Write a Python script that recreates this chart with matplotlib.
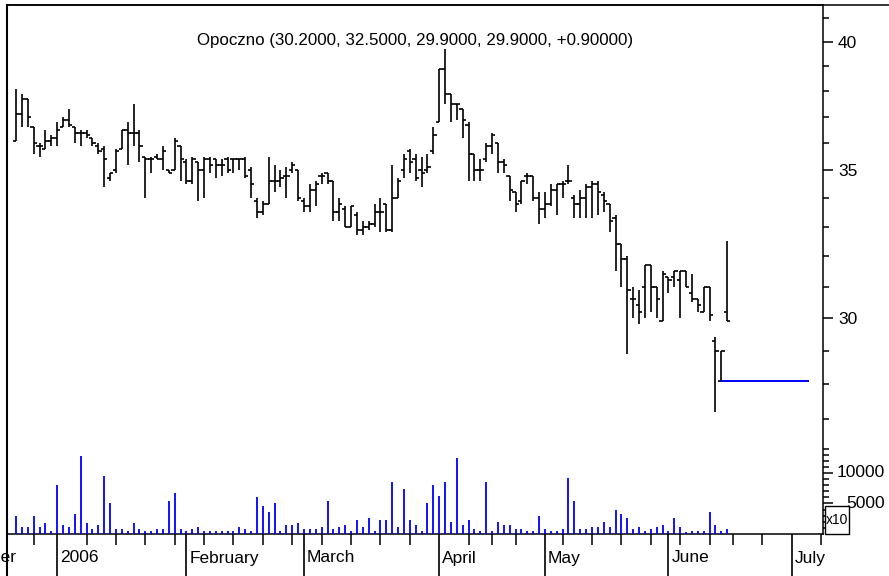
import matplotlib
matplotlib.use('Agg')
import matplotlib.pyplot as plt
import matplotlib.transforms as mtransforms
from matplotlib.lines import Line2D
from matplotlib.patches import Rectangle
from matplotlib.ticker import NullFormatter, FixedLocator

plt.rcParams['font.family'] = ['Liberation Sans', 'DejaVu Sans']

# Daily bars, 21 Dec 2005 .. 16 Jun 2006 (trading-day index 0..121)
opens = [36.1, 37.1, 37.7, 36.6, 35.9, 35.8, 36.1, 36.2, 36.6, 36.9,
         36.6, 36.4, 36.4, 36.2, 35.9, 35.8, 34.7, 35.0, 35.8, 36.5,
         36.4, 36.4, 35.5, 35.4, 35.5, 35.4, 35.0, 35.0, 35.9, 35.3,
         34.6, 35.3, 35.0, 35.4, 35.4, 35.2, 35.4, 35.4, 35.4, 35.4,
         35.0, 33.9, 33.5, 33.8, 34.6, 34.6, 34.8, 35.0, 35.0, 33.9,
         33.7, 34.3, 34.8, 34.9, 34.6, 33.5, 33.6, 33.0, 33.4, 32.9,
         33.0, 33.1, 33.5, 33.8, 32.9, 34.0, 35.0, 35.7, 35.4, 35.0,
         35.0, 35.7, 36.8, 38.9, 37.9, 37.5, 37.3, 36.7, 35.6, 35.0,
         35.4, 35.9, 36.0, 35.3, 34.8, 34.2, 33.9, 34.8, 34.8, 34.0,
         33.6, 33.8, 34.3, 34.5, 34.6, 34.0, 33.8, 34.0, 34.4, 34.5,
         34.1, 33.8, 33.3, 32.4, 31.9, 30.6, 30.4, 31.0, 31.7, 31.0,
         29.9, 31.3, 31.3, 31.2, 31.5, 30.8, 30.6, 30.2, 31.0, 29.3,
         28.1, 30.2]
highs = [38.1, 37.9, 37.7, 36.6, 36.0, 36.5, 36.3, 36.8, 37.0, 37.3,
         36.6, 36.5, 36.5, 36.2, 36.0, 35.9, 34.9, 35.8, 36.5, 36.8,
         37.5, 36.5, 35.5, 35.5, 35.6, 35.9, 35.0, 36.2, 35.9, 35.4,
         35.5, 35.3, 35.5, 35.5, 35.4, 35.4, 35.5, 35.4, 35.4, 35.5,
         35.1, 34.0, 33.9, 35.5, 35.2, 35.0, 35.1, 35.3, 35.0, 34.0,
         34.5, 34.6, 34.9, 34.9, 34.6, 34.0, 33.7, 33.7, 33.5, 33.2,
         33.2, 33.8, 34.0, 33.8, 35.2, 34.7, 35.6, 35.8, 35.6, 35.5,
         35.6, 36.6, 38.9, 39.7, 37.9, 37.5, 37.3, 36.8, 35.6, 35.4,
         36.0, 36.4, 36.0, 35.4, 34.8, 34.2, 34.6, 34.9, 34.8, 34.2,
         34.2, 34.5, 34.5, 34.6, 35.2, 34.1, 34.3, 34.5, 34.6, 34.6,
         34.2, 33.8, 33.4, 32.4, 32.0, 31.0, 30.9, 31.7, 31.7, 31.0,
         31.5, 31.3, 31.5, 31.5, 31.5, 31.4, 30.6, 31.0, 31.0, 29.4,
         29.0, 32.5]
lows = [36.1, 36.6, 36.6, 35.6, 35.5, 35.8, 35.9, 35.9, 36.6, 36.6,
        36.0, 35.9, 36.2, 35.9, 35.6, 34.4, 34.6, 34.9, 35.8, 35.2,
        35.9, 35.3, 34.0, 34.9, 35.4, 35.0, 34.9, 35.0, 34.6, 34.5,
        34.5, 33.9, 34.0, 34.9, 34.7, 34.8, 34.9, 34.9, 35.0, 34.7,
        34.0, 33.3, 33.4, 33.8, 34.2, 34.4, 34.0, 34.9, 33.9, 33.5,
        33.5, 33.7, 34.5, 34.5, 33.2, 33.2, 33.0, 33.0, 32.7, 32.7,
        32.9, 33.0, 32.8, 32.8, 32.8, 34.0, 34.7, 34.9, 34.6, 34.4,
        34.9, 35.6, 36.8, 37.5, 36.8, 36.9, 36.2, 34.6, 34.6, 34.6,
        35.3, 35.6, 34.9, 34.9, 33.9, 33.5, 33.8, 34.5, 33.9, 33.1,
        33.3, 33.7, 33.4, 34.0, 34.5, 33.3, 33.3, 33.3, 33.3, 33.4,
        33.5, 32.8, 31.5, 31.0, 28.9, 30.0, 29.8, 30.0, 30.2, 30.0,
        29.9, 30.8, 31.0, 30.0, 31.0, 30.5, 30.2, 30.2, 29.9, 27.2,
        28.1, 29.9]
closes = [37.1, 37.7, 37.0, 36.0, 35.9, 36.1, 36.2, 36.5, 36.9, 36.7,
          36.4, 36.4, 36.3, 36.0, 35.7, 35.4, 34.9, 35.7, 36.5, 36.4,
          36.4, 35.9, 35.4, 35.4, 35.4, 35.7, 34.9, 36.1, 35.4, 34.6,
          35.4, 35.0, 35.4, 35.2, 35.2, 35.2, 35.0, 35.4, 35.4, 34.8,
          34.5, 33.5, 33.8, 34.6, 34.6, 34.7, 34.8, 35.2, 34.0, 33.7,
          34.3, 34.5, 34.8, 34.6, 33.5, 33.8, 33.0, 33.7, 32.9, 33.0,
          33.1, 33.5, 33.5, 32.9, 34.0, 34.6, 35.4, 35.3, 34.7, 34.9,
          35.1, 36.3, 38.9, 37.9, 37.5, 37.5, 36.9, 35.6, 35.0, 35.0,
          35.9, 36.3, 35.3, 35.2, 34.3, 33.8, 34.6, 34.8, 34.0, 33.6,
          33.8, 34.3, 34.5, 34.5, 34.6, 33.8, 34.0, 34.4, 34.5, 34.2,
          33.9, 33.2, 32.4, 31.9, 30.9, 30.6, 30.2, 31.7, 31.0, 30.6,
          31.4, 31.2, 31.5, 31.5, 31.0, 30.6, 30.4, 31.0, 30.1, 29.0,
          29.0, 29.9]
# volume in units of 10 shares (axis shows "x10")
volumes = [2900, 1150, 1150, 2900, 1150, 1800, 550, 8100, 1500, 1150,
           3300, 12800, 1800, 800, 1500, 9500, 5000, 800, 800, 550,
           1800, 800, 550, 550, 800, 800, 5400, 6700, 800, 550,
           800, 1150, 550, 550, 550, 550, 550, 550, 1150, 800,
           550, 6000, 4600, 3600, 5000, 550, 1500, 1500, 1800, 800,
           800, 800, 1150, 5400, 800, 1150, 1500, 550, 2250, 1150,
           2600, 550, 2250, 2250, 8500, 1150, 7400, 2250, 1500, 550,
           5000, 8100, 6300, 8500, 1900, 12500, 1500, 2250, 800, 550,
           8500, 550, 1900, 1500, 1500, 800, 800, 550, 550, 2900,
           800, 550, 550, 800, 9100, 5400, 800, 800, 1150, 1150,
           1900, 1150, 4000, 3300, 2600, 800, 1150, 550, 800, 1150,
           1500, 550, 2600, 1150, 300, 550, 550, 550, 3600, 1500,
           550, 800]

# first trading day of each month / week, as trading-day index
month_ticks = [-14, 7, 29, 49, 72, 90, 111, 132]
month_labels = ['December', '2006', 'February', 'March', 'April', 'May', 'June', 'July']
week_ticks = [3, 12, 17, 22, 27, 32, 37, 42, 47, 52, 57, 62, 67, 77, 81, 85,
              93, 98, 103, 108, 113, 118, 122, 127, 137]

price_major = [30, 35, 40]
price_minor = [27, 28, 29, 31, 32, 33, 34, 36, 37, 38, 39, 41]
vol_major = [5000, 10000]
vol_minor = list(range(1000, 15000, 1000))

stop_bar = 120
stop_end = 135

title = 'Opoczno (30.2000, 32.5000, 29.9000, 29.9000, +0.90000)'

FS = 12.5
W, H = 889, 576
fig = plt.figure(figsize=(W / 100, H / 100), dpi=100)
L, R, T, B = 7, 823, 5, 534
ax = fig.add_axes([L / W, 1 - B / H, (R - L) / W, (B - T) / H])

n = len(closes)
xs = list(range(n))
ax.vlines(xs, lows, highs, color='black', lw=1.2)
ax.hlines(opens, [x - 0.55 for x in xs], xs, color='black', lw=1.2)
ax.hlines(closes, xs, [x + 0.55 for x in xs], color='black', lw=1.2)
ax.hlines(lows[stop_bar], stop_bar, stop_end, color='#0000ff', lw=1.4)

# volume on a twin axis in the lower part of the same frame
vax = ax.twinx()
vax.vlines(xs, 0, volumes, color='#0000ff', lw=1.3)
vax.set_ylim(0, 86700)
vax.yaxis.set_major_locator(FixedLocator(vol_major))
vax.yaxis.set_minor_locator(FixedLocator(vol_minor))
vax.yaxis.set_major_formatter(NullFormatter())
vax.tick_params(axis='y', which='major', length=7.2, width=1.1)
vax.tick_params(axis='y', which='minor', length=4.3, width=1.1)
for s in vax.spines.values():
    s.set_visible(False)

ax.set_yscale('log')
ax.set_ylim(23.95, 41.58)
ax.set_xlim(-1.53, 137.3)
ax.yaxis.tick_right()
ax.yaxis.set_label_position('right')
ax.yaxis.set_major_locator(FixedLocator(price_major))
ax.yaxis.set_minor_locator(FixedLocator(price_minor))
ax.set_yticklabels([str(p) for p in price_major])
ax.yaxis.set_minor_formatter(NullFormatter())
ax.tick_params(axis='y', which='major', length=7.2, width=1.1, pad=3.5, labelsize=FS)
ax.tick_params(axis='y', which='minor', length=4.3, width=1.1)

ax.set_xticks([m for m in month_ticks if m >= 0])
ax.set_xticks(week_ticks, minor=True)
ax.set_xticklabels([])
ax.tick_params(axis='x', which='major', length=30, width=1.2)
ax.tick_params(axis='x', which='minor', length=8, width=1.1)
for s in ax.spines.values():
    s.set_linewidth(1.1)

lab_trans = mtransforms.blended_transform_factory(fig.transFigure, vax.transData)
for v in vol_major:
    vax.text(885 / W, v, str(v), transform=lab_trans, ha='right', va='center', fontsize=FS)

date_trans = mtransforms.offset_copy(
    mtransforms.blended_transform_factory(ax.transData, fig.transFigure), fig, x=3, units='dots')
for m, lab in zip(month_ticks, month_labels):
    ax.text(m, 1 - 558 / H, lab, transform=date_trans, ha='left', va='center', fontsize=FS, clip_on=False)

ax.text(0.5, 1 - 40 / H, title, transform=mtransforms.blended_transform_factory(ax.transAxes, fig.transFigure),
        ha='center', va='center', fontsize=12.2)

fig.add_artist(Rectangle((825 / W, 1 - 534 / H), 24 / W, 28 / H, transform=fig.transFigure,
                         facecolor='white', edgecolor='black', lw=1.0, zorder=5))
fig.text(837 / W, 1 - 520 / H, 'x10', ha='center', va='center', fontsize=10, zorder=6)

fig.add_artist(Line2D([L / W, L / W], [0, 1 - T / H], color='black', lw=1.5))
fig.add_artist(Line2D([L / W, 1], [1 - T / H, 1 - T / H], color='black', lw=1.1))

fig.savefig('out.png', dpi=100)
